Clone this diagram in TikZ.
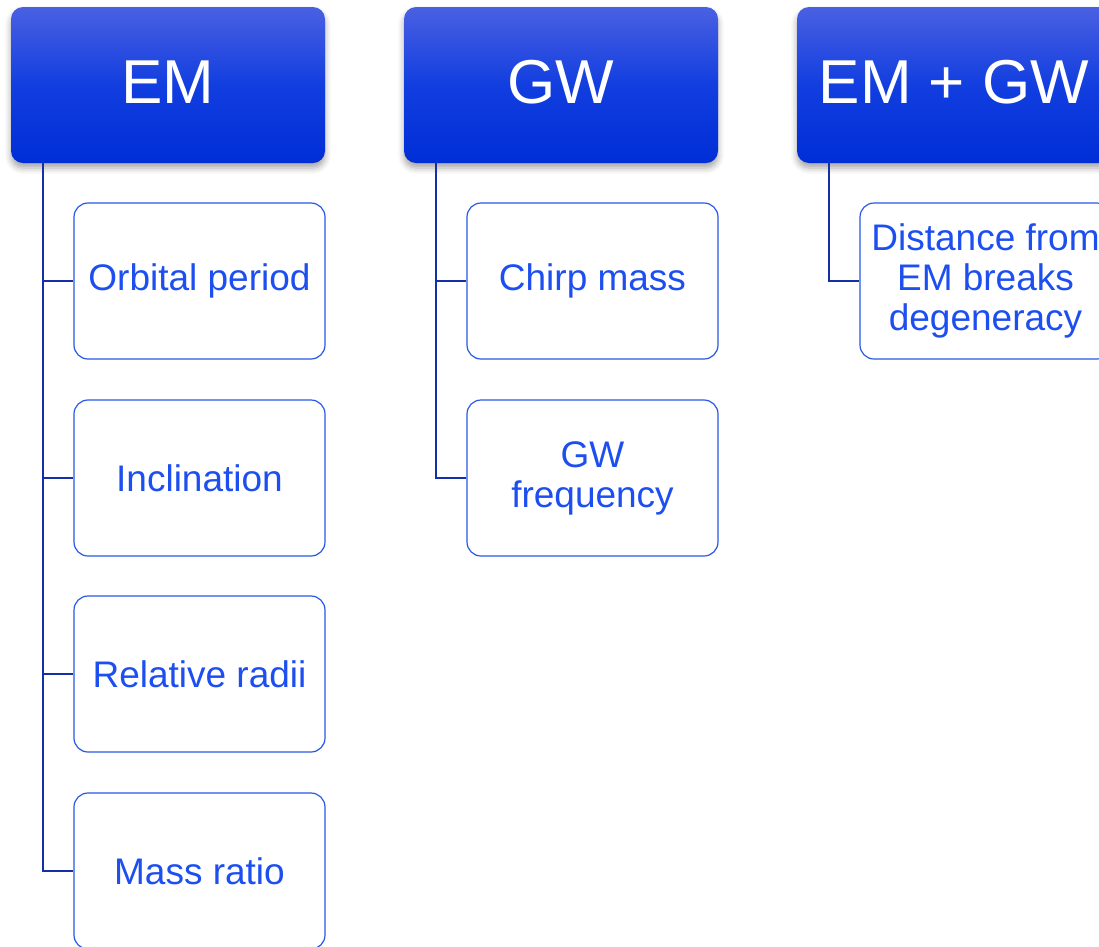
\documentclass[tikz,border=0pt]{standalone}
\usepackage{fontspec}
\setmainfont{Liberation Sans}
\usetikzlibrary{shadows.blur}
\definecolor{headtop}{RGB}{74,96,226}
\definecolor{headmid}{RGB}{18,62,224}
\definecolor{headbot}{RGB}{0,46,214}
\definecolor{linkblue}{RGB}{20,48,165}
\definecolor{boxedge}{RGB}{40,88,230}
\definecolor{itemtext}{RGB}{28,78,240}
\tikzset{
  header/.style={rectangle, rounded corners=12pt, minimum width=314pt, minimum height=156pt,
    top color=headtop, bottom color=headbot, middle color=headmid,
    text=white, font=\fontsize{62}{70}\selectfont, inner sep=0pt,
    blur shadow={shadow xshift=0pt, shadow yshift=-5pt, shadow blur radius=6pt, shadow opacity=35}},
  item/.style={rectangle, rounded corners=14pt, minimum width=251pt, minimum height=156pt,
    draw=boxedge, line width=1.2pt, fill=white, text=itemtext, align=center,
    font=\fontsize{37}{40}\selectfont, inner sep=0pt},
  link/.style={draw=linkblue, line width=2.6pt}
}
\begin{document}
\begin{tikzpicture}[x=1pt,y=-1pt]
\useasboundingbox (0,0) rectangle (1099,946);
\clip (0,0) rectangle (1099,946);
% column headers (boxes, then their titles)
\node[header] (em) at (168,85) {};
\node[header] (gw) at (561,85) {};
\node[header] (emgw) at (954,85) {};
\node[text=white, font=\fontsize{62}{70}\selectfont] (emtitle) at ([yshift=3pt]em.center) {EM};
\node[text=white, font=\fontsize{62}{70}\selectfont] (gwtitle) at ([yshift=3pt]gw.center) {GW};
\node[text=white, font=\fontsize{62}{70}\selectfont] (emgwtitle) at ([yshift=3pt]emgw.center) {EM + GW};
% EM column
\node[item] (op) at (199.5,281) {Orbital period};
\node[item] (inc) at (199.5,478) {Inclination};
\node[item] (rr) at (199.5,674) {Relative radii};
\node[item] (mr) at (199.5,871) {Mass ratio};
% GW column
\node[item] (cm) at (592.5,281) {Chirp mass};
\node[item] (gf) at (592.5,478) {GW\\frequency};
% EM + GW column
\node[item] (dist) at (985.5,281) {Distance from\\EM breaks\\degeneracy};
% tree connectors
\coordinate (emroot) at ([xshift=-125pt]em.south);
\coordinate (gwroot) at ([xshift=-125pt]gw.south);
\coordinate (emgwroot) at ([xshift=-125pt]emgw.south);
\draw[link] (emroot) |- (mr.west);
\draw[link] (emroot |- op.west) -- (op.west);
\draw[link] (emroot |- inc.west) -- (inc.west);
\draw[link] (emroot |- rr.west) -- (rr.west);
\draw[link] (gwroot) |- (gf.west);
\draw[link] (gwroot |- cm.west) -- (cm.west);
\draw[link] (emgwroot) |- (dist.west);
\end{tikzpicture}
\end{document}
